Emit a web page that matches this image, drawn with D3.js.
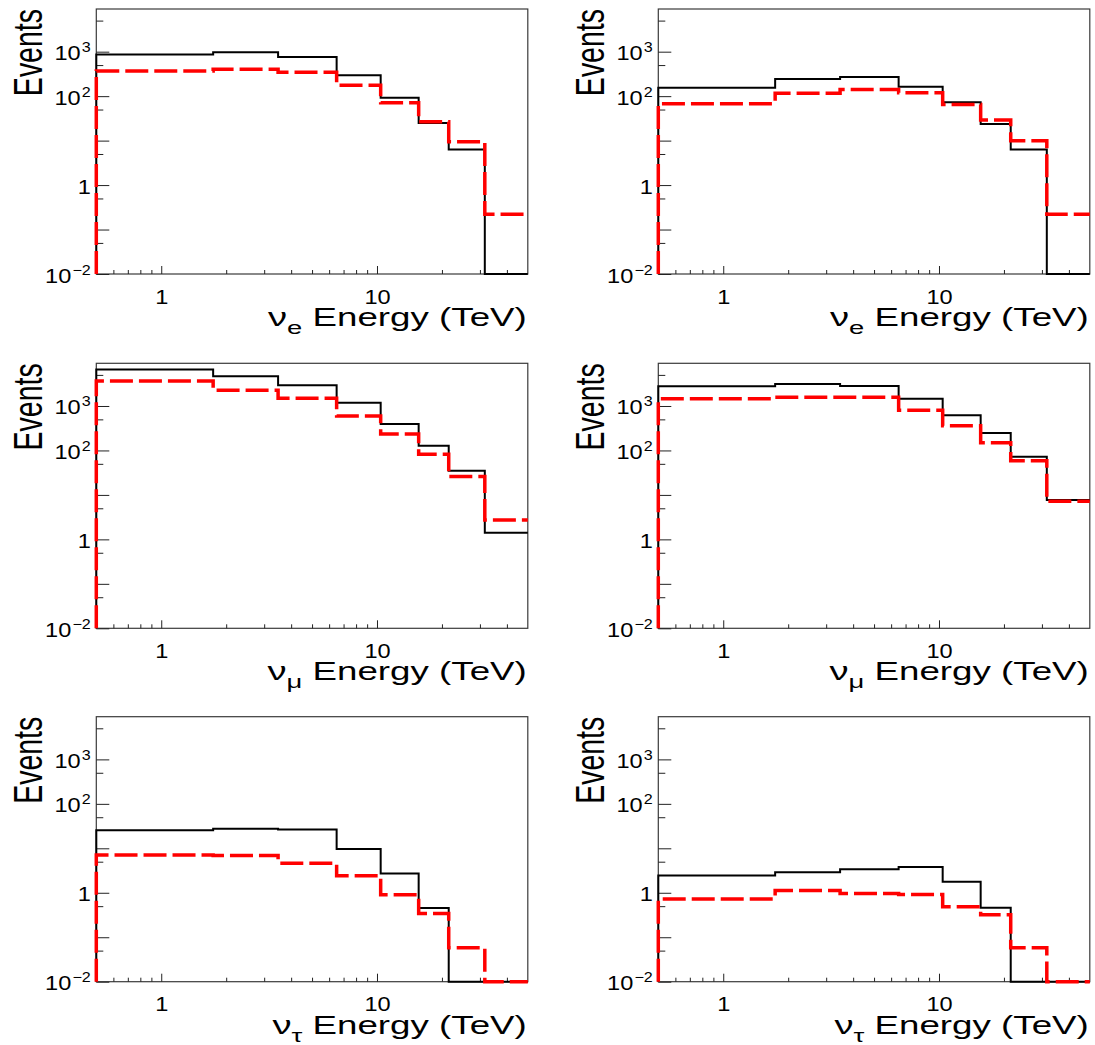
<!DOCTYPE html>
<html>
<head>
<meta charset="utf-8">
<script src="https://cdn.jsdelivr.net/npm/d3@7"></script>
<style>
  body { margin: 0; background: #fff; }
  text { font-family: "Liberation Sans", Arial, Helvetica, sans-serif; fill: #000; }
</style>
</head>
<body>
<svg id="chart" width="1095" height="1045"></svg>
<script>
// Energy binning (TeV), shared by every histogram
const energyEdges = [0.5, 1.74, 3.48, 6.5, 10.4, 15.6, 21.5, 31.6, 50];

// Neutrino flavour of each row
const rowFlavours = ["e", "μ", "τ"];

// Event counts per bin: solid (black) and dashed (red) histograms
const nueLeftSolid    = [865, 969, 760, 294, 92, 25, 6.3, 0];
const nueLeftDashed   = [368, 402, 343, 175, 71, 26.6, 9.4, 0.22];
const nueRightSolid   = [155, 243, 270, 163, 72.5, 23.6, 6.3, 0];
const nueRightDashed  = [67.8, 116, 142, 120, 65, 29, 9.95, 0.22];
const numuLeftSolid   = [6600, 4660, 2925, 1190, 393, 127, 34.8, 1.41];
const numuLeftDashed  = [3660, 2256, 1490, 595, 233, 82.6, 25.9, 2.73];
const numuRightSolid  = [2790, 3135, 2820, 1463, 616, 246, 72, 7.7];
const numuRightDashed = [1450, 1568, 1568, 797, 360, 149, 58.5, 7.2];
const nutauLeftSolid   = [25.5, 27.4, 26.4, 9.7, 2.72, 0.453, 0, 0];
const nutauLeftDashed  = [7.1, 6.9, 4.64, 2.41, 0.90, 0.343, 0.058, 0];
const nutauRightSolid  = [2.45, 2.91, 3.40, 3.80, 1.76, 0.46, 0, 0];
const nutauRightDashed = [0.72, 1.13, 0.966, 0.92, 0.485, 0.32, 0.058, 0];

// Axis ticks and labels
const xRange = [0.5, 50];
const yRange = [1e-2, Math.pow(10, 3.96)];
const xMajorTicks = [1, 10];
const xMinorTicks = [0.6, 0.7, 0.8, 0.9, 2, 3, 4, 5, 6, 7, 8, 9, 20, 30, 40];
const xLabelValues = [1, 10];
const xLabelTexts = ["1", "10"];
const yMajorTicks = [1e-2, 1e-1, 1, 1e1, 1e2, 1e3];
const yMinorTicks = [0.05, 0.5, 5, 50, 500, 5000];
const yLabelValues = [1e-2, 1, 1e2, 1e3];
const yLabelBases = ["10", "1", "10", "10"];
const yLabelExponents = ["−2", "", "2", "3"];

const panelSeries = [
  [nueLeftSolid, nueLeftDashed], [nueRightSolid, nueRightDashed],
  [numuLeftSolid, numuLeftDashed], [numuRightSolid, numuRightDashed],
  [nutauLeftSolid, nutauLeftDashed], [nutauRightSolid, nutauRightDashed]
];

// Layout of the 3x2 grid of frames
const colLeft = [96.3, 658.3];
const rowTop = [9, 363.3, 716.7];
const frameW = 431.5, frameH = 265;
const titleStretch = 1.44;   // horizontal stretch of the axis titles
const labelStretch = 1.15;   // horizontal stretch of the tick labels

const svg = d3.select("#chart");

panelSeries.forEach((series, i) => {
  const row = Math.floor(i / 2), col = i % 2;
  const left = colLeft[col], top = rowTop[row];
  const x = d3.scaleLog().domain(xRange).range([left, left + frameW]);
  const y = d3.scaleLog().domain(yRange).range([top + frameH, top]);
  const g = svg.append("g");

  // frame
  g.append("rect")
    .attr("x", left).attr("y", top)
    .attr("width", frameW).attr("height", frameH)
    .attr("fill", "none").attr("stroke", "#3a3a3a").attr("stroke-width", 1.2);

  // x ticks (pointing into the frame)
  const xMaj = d3.axisBottom(x).tickValues(xMajorTicks).tickSize(-8).tickFormat("");
  const xMin = d3.axisBottom(x).tickValues(xMinorTicks).tickSize(-4).tickFormat("");
  [xMaj, xMin].forEach(ax => {
    const a = g.append("g").attr("transform", `translate(0,${top + frameH})`).call(ax);
    a.select(".domain").remove();
    a.selectAll("line").attr("stroke", "#222").attr("stroke-width", 1);
  });
  // y ticks
  const yMaj = d3.axisLeft(y).tickValues(yMajorTicks).tickSize(-13).tickFormat("");
  const yMin = d3.axisLeft(y).tickValues(yMinorTicks).tickSize(-7).tickFormat("");
  [yMaj, yMin].forEach(ax => {
    const a = g.append("g").attr("transform", `translate(${left},0)`).call(ax);
    a.select(".domain").remove();
    a.selectAll("line").attr("stroke", "#222").attr("stroke-width", 1);
  });

  // x tick labels
  xLabelValues.forEach((v, k) => {
    g.append("g")
      .attr("transform", `translate(${x(v) + 0.5},${top + frameH + 29.5}) scale(${labelStretch},1)`)
      .append("text")
      .attr("text-anchor", "middle").attr("font-size", 20.5)
      .text(xLabelTexts[k]);
  });
  // y tick labels
  yLabelValues.forEach((v, k) => {
    const t = g.append("g")
      .attr("transform", `translate(${left - 5.5},${y(v) + 8.5}) scale(${labelStretch},1)`)
      .append("text")
      .attr("text-anchor", "end").attr("font-size", 20.5);
    t.append("tspan").text(yLabelBases[k]);
    if (yLabelExponents[k]) {
      t.append("tspan").attr("dy", -8).attr("dx", 1).attr("font-size", 14)
        .text(yLabelExponents[k]);
    }
  });

  // axis titles
  const xt = g.append("g")
    .attr("transform", `translate(${left + frameW - 1},${top + frameH + 52}) scale(${titleStretch},1)`)
    .append("text").attr("text-anchor", "end").attr("font-size", 25.5);
  xt.append("tspan").attr("font-size", 26.5).text("ν");
  xt.append("tspan").attr("font-size", 19).attr("dy", 8).text(rowFlavours[row]);
  xt.append("tspan").attr("dy", -8).text(" Energy (TeV)");

  g.append("g")
    .attr("transform", `translate(${left - 54.6},${top}) scale(${titleStretch},1) rotate(-90)`)
    .append("text").attr("text-anchor", "end").attr("font-size", 28.5)
    .text("Events");

  // step histograms
  const floorY = yRange[0];
  const stepPoints = vals => {
    const pts = [[energyEdges[0], floorY]];
    vals.forEach((v, b) => {
      const c = Math.max(v, floorY);
      pts.push([energyEdges[b], c], [energyEdges[b + 1], c]);
    });
    return pts;
  };
  const line = d3.line().x(d => x(d[0])).y(d => y(d[1]));

  g.append("path")
    .attr("d", line(stepPoints(series[0])))
    .attr("fill", "none").attr("stroke", "#000").attr("stroke-width", 2);
  g.append("path")
    .attr("d", line(stepPoints(series[1])))
    .attr("fill", "none").attr("stroke", "#ff0000").attr("stroke-width", 3.5)
    .attr("stroke-dasharray", "23 6");
});
</script>
</body>
</html>
